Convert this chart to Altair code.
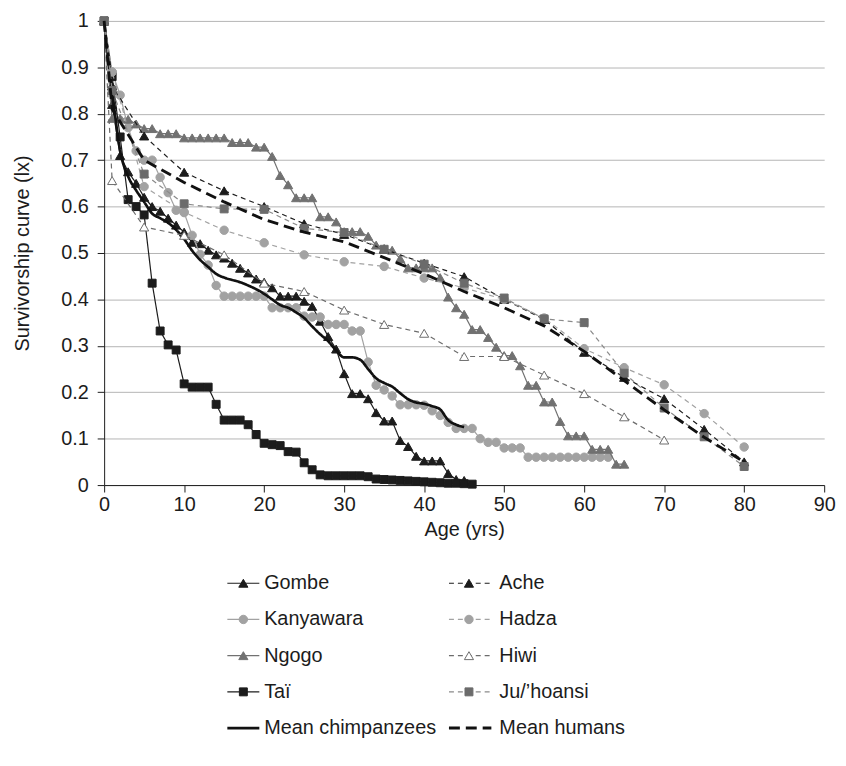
import altair as alt
import pandas as pd

FONT = "Liberation Sans"

# ---------------- data ----------------
gombe_ages = list(range(0, 46))
gombe_lx = [1.00, 0.82, 0.71, 0.675, 0.65, 0.62, 0.60, 0.59, 0.575, 0.56,
            0.545, 0.523, 0.52, 0.506, 0.496, 0.489, 0.478, 0.467, 0.457, 0.444,
            0.437, 0.425, 0.407, 0.407, 0.407, 0.396, 0.385, 0.353, 0.32, 0.293,
            0.24, 0.197, 0.197, 0.186, 0.156, 0.138, 0.138, 0.096, 0.083, 0.062,
            0.052, 0.052, 0.052, 0.025, 0.012, 0.01]

kanyawara_ages = list(range(0, 64))
kanyawara_lx = [1.00, 0.89, 0.84, 0.77, 0.72, 0.70, 0.70, 0.663, 0.63, 0.592,
                0.587, 0.538, 0.497, 0.474, 0.43, 0.407, 0.407, 0.407, 0.407, 0.407,
                0.407, 0.382, 0.382, 0.382, 0.382, 0.364, 0.362, 0.362, 0.346, 0.346,
                0.346, 0.332, 0.332, 0.265, 0.215, 0.205, 0.192, 0.173, 0.173, 0.173,
                0.172, 0.16, 0.15, 0.135, 0.122, 0.122, 0.122, 0.10, 0.092, 0.092,
                0.08, 0.08, 0.08, 0.06, 0.06, 0.06, 0.06, 0.06, 0.06, 0.06,
                0.06, 0.06, 0.06, 0.06]

ngogo_ages = list(range(0, 66))
ngogo_lx = [1.00, 0.79, 0.79, 0.788, 0.778, 0.768, 0.768, 0.757, 0.757, 0.757,
            0.748, 0.748, 0.748, 0.748, 0.748, 0.748, 0.738, 0.738, 0.738, 0.728,
            0.728, 0.708, 0.667, 0.647, 0.619, 0.619, 0.619, 0.578, 0.578, 0.567,
            0.546, 0.546, 0.546, 0.536, 0.517, 0.51, 0.506, 0.488, 0.468, 0.468,
            0.468, 0.468, 0.447, 0.405, 0.382, 0.368, 0.335, 0.335, 0.318, 0.297,
            0.279, 0.279, 0.257, 0.215, 0.215, 0.179, 0.179, 0.137, 0.106, 0.106,
            0.106, 0.077, 0.077, 0.077, 0.045, 0.045]

tai_ages = list(range(0, 47))
tai_lx = [1.00, 0.88, 0.75, 0.615, 0.60, 0.582, 0.435, 0.332, 0.302, 0.291,
          0.218, 0.211, 0.211, 0.211, 0.174, 0.14, 0.14, 0.14, 0.13, 0.109,
          0.09, 0.087, 0.085, 0.072, 0.071, 0.048, 0.033, 0.022, 0.02, 0.02,
          0.02, 0.02, 0.02, 0.018, 0.013, 0.012, 0.011, 0.01, 0.009, 0.008,
          0.007, 0.006, 0.005, 0.004, 0.004, 0.003, 0.002]

mean_chimp_ages = list(range(0, 46))
mean_chimp_lx = [1.00, 0.85, 0.72, 0.665, 0.635, 0.61, 0.585, 0.575, 0.565, 0.55,
                 0.53, 0.505, 0.485, 0.47, 0.455, 0.447, 0.442, 0.437, 0.43, 0.422,
                 0.412, 0.40, 0.388, 0.382, 0.372, 0.36, 0.342, 0.325, 0.31, 0.29,
                 0.275, 0.275, 0.27, 0.25, 0.23, 0.22, 0.212, 0.198, 0.185, 0.178,
                 0.175, 0.17, 0.163, 0.14, 0.13, 0.125]

human_ages = [0, 1, 5, 10, 15, 20, 25, 30, 35, 40, 45, 50, 55, 60, 65, 70, 75, 80]
ache_lx = [1.00, 0.86, 0.752, 0.674, 0.634, 0.60, 0.563, 0.54, 0.508, 0.478,
           0.449, 0.40, 0.357, 0.286, 0.232, 0.186, 0.12, 0.05]
hadza_lx = [1.00, 0.89, 0.643, 0.588, 0.549, 0.522, 0.496, 0.481, 0.471, 0.446,
            0.425, 0.40, 0.36, 0.294, 0.253, 0.216, 0.154, 0.082]
hiwi_ages = [0, 1, 5, 10, 15, 20, 25, 30, 35, 40, 45, 50, 55, 60, 65, 70]
hiwi_lx = [1.00, 0.656, 0.556, 0.538, 0.496, 0.435, 0.417, 0.377, 0.346, 0.327,
           0.277, 0.277, 0.237, 0.197, 0.147, 0.097]
ju_lx = [1.00, 0.85, 0.67, 0.606, 0.595, 0.594, 0.553, 0.544, 0.508, 0.476,
         0.435, 0.403, 0.358, 0.35, 0.241, 0.166, 0.104, 0.04]
mean_human_lx = [1.00, 0.81, 0.70, 0.652, 0.61, 0.572, 0.545, 0.524, 0.49, 0.455,
                 0.417, 0.382, 0.343, 0.288, 0.225, 0.162, 0.103, 0.05]

JU = "Ju/\u2019hoansi"
legend_order = ["Gombe", "Ache", "Kanyawara", "Hadza", "Ngogo", "Hiwi",
                "Taï", JU, "Mean chimpanzees", "Mean humans"]

series_data = [
    ("Gombe", gombe_ages, gombe_lx),
    ("Kanyawara", kanyawara_ages, kanyawara_lx),
    ("Ngogo", ngogo_ages, ngogo_lx),
    ("Taï", tai_ages, tai_lx),
    ("Mean chimpanzees", mean_chimp_ages, mean_chimp_lx),
    ("Ache", human_ages, ache_lx),
    ("Hadza", human_ages, hadza_lx),
    ("Hiwi", hiwi_ages, hiwi_lx),
    (JU, human_ages, ju_lx),
    ("Mean humans", human_ages, mean_human_lx),
]

rows = []
for name, ages, vals in series_data:
    for a, v in zip(ages, vals):
        rows.append({"series": name, "age": a, "lx": v})
df = pd.DataFrame(rows)

legend_df = pd.DataFrame({
    "series": legend_order,
    "col": [i % 2 for i in range(len(legend_order))],
    "row": [i // 2 for i in range(len(legend_order))],
})

# ---------------- styles ----------------
BLACK = "#1c1c1c"
LIGHT = "#a2a2a2"
MID = "#717171"
SOLID = [1, 0]
DASH = [5, 4]
style = {
    "Gombe": dict(line=BLACK, dash=SOLID, w=1.2, shape="triangle-up", fill=BLACK, stroke=BLACK),
    "Kanyawara": dict(line=LIGHT, dash=SOLID, w=1.2, shape="circle", fill=LIGHT, stroke=LIGHT),
    "Ngogo": dict(line=MID, dash=SOLID, w=1.2, shape="triangle-up", fill=MID, stroke=MID),
    "Taï": dict(line=BLACK, dash=SOLID, w=1.2, shape="square", fill=BLACK, stroke=BLACK),
    "Mean chimpanzees": dict(line="#111111", dash=SOLID, w=2.7, shape=None),
    "Ache": dict(line=BLACK, dash=DASH, w=1.2, shape="triangle-up", fill=BLACK, stroke=BLACK),
    "Hadza": dict(line=LIGHT, dash=DASH, w=1.2, shape="circle", fill=LIGHT, stroke=LIGHT),
    "Hiwi": dict(line="#6c6c6c", dash=DASH, w=1.2, shape="triangle-up", fill="#ffffff", stroke="#6c6c6c"),
    JU: dict(line="#8a8a8a", dash=DASH, w=1.2, shape="square", fill="#6b6b6b", stroke="#6b6b6b"),
    "Mean humans": dict(line="#111111", dash=[11, 6], w=2.9, shape=None),
}
msize = {"triangle-up": 85, "circle": 72, "square": 64}

x_axis = alt.Axis(title="Age (yrs)", values=list(range(0, 100, 10)),
                  grid=False, tickSize=7, tickColor=BLACK, domainColor=BLACK,
                  labelFontSize=20, titleFontSize=20, labelPadding=3,
                  titlePadding=5, labelFlush=False)
y_axis = alt.Axis(title="Survivorship curve (lx)",
                  values=[i / 10 for i in range(11)], format="~g",
                  grid=True, gridColor="#b4b4b4", gridWidth=1,
                  tickSize=7, tickColor=BLACK, domainColor=BLACK,
                  labelFontSize=20, titleFontSize=20, labelPadding=9,
                  titlePadding=28)
x_scale = alt.Scale(domain=[0, 90], nice=False)
y_scale = alt.Scale(domain=[0, 1], nice=False)

base = alt.Chart(df)
main_layers = []
first = True
for name, _, _ in series_data:
    st = style[name]
    sub = base.transform_filter(alt.FieldEqualPredicate(field="series", equal=name))
    if first:
        xe = alt.X("age:Q", scale=x_scale, axis=x_axis)
        ye = alt.Y("lx:Q", scale=y_scale, axis=y_axis)
        first = False
    else:
        xe = alt.X("age:Q")
        ye = alt.Y("lx:Q")
    main_layers.append(sub.mark_line(
        color=st["line"], strokeDash=st["dash"], strokeWidth=st["w"],
        interpolate="monotone" if name == "Mean chimpanzees" else "linear",
    ).encode(x=xe, y=ye))
    if st["shape"]:
        main_layers.append(sub.mark_point(
            shape=st["shape"], size=msize[st["shape"]], fill=st["fill"],
            stroke=st["stroke"], strokeWidth=1, opacity=1, fillOpacity=1,
        ).encode(x="age:Q", y="lx:Q"))
main = alt.layer(*main_layers)

# ---------------- legend (below the x-axis title) ----------------
lg = alt.Chart(legend_df).transform_calculate(
    x0="datum.col == 0 ? 15.4 : 43.1",
    x1="datum.col == 0 ? 19.4 : 48.4",
    xm="datum.col == 0 ? 17.4 : 45.6",
    xt="datum.col == 0 ? 20.0 : 49.4",
)
lx_scale = alt.Scale(domain=[0, 90], nice=False)
ly_scale = alt.Scale(domain=[0, 4], range=[567, 713], nice=False, zero=False)
leg_layers = []
for name in legend_order:
    st = style[name]
    sub = lg.transform_filter(alt.FieldEqualPredicate(field="series", equal=name))
    leg_layers.append(sub.mark_rule(
        color=st["line"], strokeDash=st["dash"], strokeWidth=st["w"],
    ).encode(x=alt.X("x0:Q", scale=lx_scale, axis=None), x2="x1:Q",
             y=alt.Y("row:Q", scale=ly_scale, axis=None)))
    if st["shape"]:
        leg_layers.append(sub.mark_point(
            shape=st["shape"], size=msize[st["shape"]], fill=st["fill"],
            stroke=st["stroke"], strokeWidth=1, opacity=1, fillOpacity=1,
        ).encode(x=alt.X("xm:Q", scale=lx_scale, axis=None),
                 y=alt.Y("row:Q", scale=ly_scale, axis=None)))
leg_layers.append(lg.mark_text(align="left", baseline="middle", font=FONT, fontSize=20,
                               color=BLACK).encode(
    x=alt.X("xt:Q", scale=lx_scale, axis=None),
    y=alt.Y("row:Q", scale=ly_scale, axis=None),
    text="series:N"))
legend = alt.layer(*leg_layers)

chart = alt.layer(main, legend).resolve_scale(x="independent", y="independent").properties(
    width=726, height=468,
    padding={"left": 13, "top": 8, "right": 10, "bottom": 5},
).configure_view(stroke=None).configure_axis(
    labelFont=FONT, titleFont=FONT, labelColor=BLACK, titleColor=BLACK,
    titleFontWeight="normal")

chart.save("out.html", embed_options={"renderer": "svg", "actions": False})
